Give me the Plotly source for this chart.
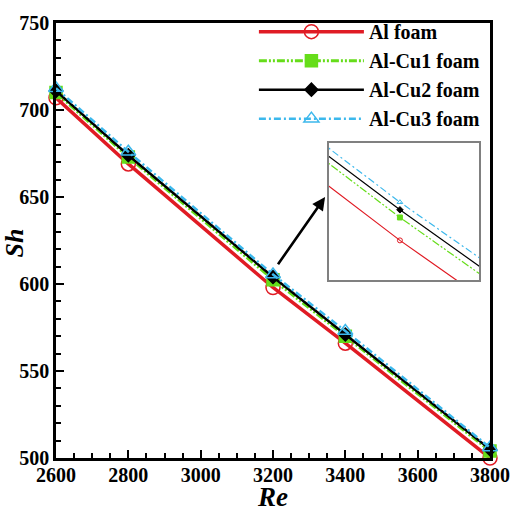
import plotly.graph_objects as go

# data
re_vals = [2600, 2800, 3200, 3400, 3800]
sh_al = [707, 669, 598, 566, 500]
sh_alcu1 = [710, 673, 602.5, 570, 504]
sh_alcu2 = [711, 674, 604, 571, 505]
sh_alcu3 = [712.5, 676, 605.5, 573, 506]

names = ["Al foam", "Al-Cu1 foam", "Al-Cu2 foam", "Al-Cu3 foam"]
series = [sh_al, sh_alcu1, sh_alcu2, sh_alcu3]
colors = ["#e01b24", "#66dd1a", "#000000", "#3cb8ec"]
dashes = ["solid", "8px,2px,2px,2px,2px,2px", "solid", "7px,3px,2px,3px"]
symbols = ["circle-open", "square", "diamond", "triangle-up-open"]
msizes = [14, 12, 10, 13]
widths = [3.5, 3, 2.5, 2.5]

font_main = "Liberation Serif, Times New Roman, serif"

fig = go.Figure()

# main curves
for name, ys, c, d, s, ms, w in zip(names, series, colors, dashes, symbols, msizes, widths):
    fig.add_trace(go.Scatter(
        x=re_vals, y=ys, name="<b>" + name + "</b>", mode="lines+markers",
        line=dict(color=c, width=w, dash=d),
        marker=dict(symbol=s, size=ms, color=c, line=dict(color=c, width=1.5)),
        cliponaxis=False))

# zoomed inset around Re = 3200
for ys, c, d, s in zip(series, colors, dashes, symbols):
    fig.add_trace(go.Scatter(
        x=re_vals, y=ys, mode="lines+markers", showlegend=False,
        xaxis="x2", yaxis="y2",
        line=dict(color=c, width=1.2, dash=d),
        marker=dict(symbol=s, size=5, color=c, line=dict(color=c, width=1)),
        cliponaxis=True))

fig.add_annotation(x=3344, y=650, ax=3211, ay=610.5, xref="x", yref="y",
                   axref="x", ayref="y", text="", showarrow=True,
                   arrowhead=2, arrowsize=1, arrowwidth=2.6, arrowcolor="black")

# axis titles placed as annotations so they sit exactly where the reference has them
fig.add_annotation(x=0.498, y=-0.09, xref="paper", yref="paper", showarrow=False,
                   text="<b><i>Re</i></b>", font=dict(size=27),
                   xanchor="center", yanchor="middle")
fig.add_annotation(x=-0.096, y=0.494, xref="paper", yref="paper", showarrow=False,
                   text="<b><i>Sh</i></b>", font=dict(size=26), textangle=-90,
                   xanchor="center", yanchor="middle")

fig.update_layout(
    width=515, height=511,
    margin=dict(l=56, r=25, t=15, b=53),
    paper_bgcolor="white", plot_bgcolor="white",
    font=dict(family=font_main, size=20, color="black"),
    xaxis=dict(range=[2600, 3800], dtick=200, tick0=2600, automargin=False,
               showline=True, linecolor="black", linewidth=2.5, mirror=True,
               ticks="inside", ticklen=8, tickwidth=2, tickcolor="black",
               minor=dict(dtick=50, ticks="inside", ticklen=5, tickwidth=1.5, tickcolor="black"),
               showgrid=False, zeroline=False, ticklabelstandoff=-3,
               ticklabeloverflow="allow",
               tickfont=dict(family=font_main, size=20),
               tickprefix="<b>", ticksuffix="</b>"),
    yaxis=dict(range=[500, 750], dtick=50, tick0=500, automargin=False,
               showline=True, linecolor="black", linewidth=2.5, mirror=True,
               ticks="inside", ticklen=8, tickwidth=2, tickcolor="black",
               minor=dict(dtick=10, ticks="inside", ticklen=5, tickwidth=1.5, tickcolor="black"),
               showgrid=False, zeroline=False, ticklabeloverflow="allow",
               tickfont=dict(family=font_main, size=20),
               tickprefix="<b>", ticksuffix="</b>"),
    xaxis2=dict(domain=[0.629, 0.975], anchor="y2", range=[3140, 3267],
                showline=True, linecolor="#808080", linewidth=1.5, mirror=True,
                showticklabels=False, ticks="", showgrid=False, zeroline=False),
    yaxis2=dict(domain=[0.409, 0.725], anchor="x2", range=[590.2, 617.2],
                showline=True, linecolor="#808080", linewidth=1.5, mirror=True,
                showticklabels=False, ticks="", showgrid=False, zeroline=False),
    legend=dict(x=0.456, y=1.025, xanchor="left", yanchor="top",
                bgcolor="rgba(0,0,0,0)", borderwidth=0,
                font=dict(family=font_main, size=20),
                itemwidth=105, tracegroupgap=0),
)

# drop the default 8px body margin so the figure sits at the window corner
fig.write_html("out.html", config={"displayModeBar": False},
               post_script="document.body.style.margin='0';")
